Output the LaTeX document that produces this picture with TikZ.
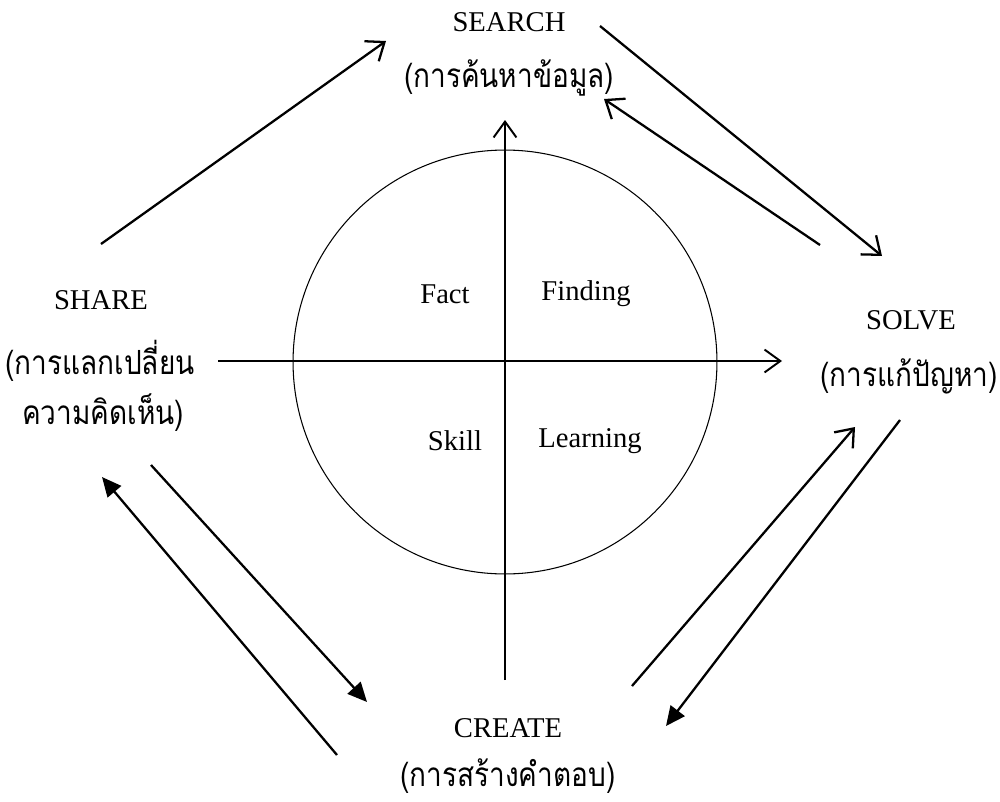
\documentclass[tikz,border=0pt]{standalone}
\usepackage{fontspec}
\setmainfont{Liberation Serif}
\newfontfamily\thaifont[Script=Thai, Scale=1.2, FakeStretch=0.84]{Loma}
\usetikzlibrary{arrows.meta}
\tikzset{
  lbl/.style={inner sep=0pt, font=\fontsize{16.3}{19}\selectfont},
  thlbl/.style={inner sep=0pt, font=\thaifont\fontsize{15.8}{19}\selectfont},
  openarr/.style={line width=1.3pt, -{Straight Barb[length=9pt,width=14pt,line width=1.3pt]}},
  fillarr/.style={line width=1.3pt, -{Triangle[length=11pt,width=10pt]}},
  axis/.style={line width=1.1pt, -{Straight Barb[length=9pt,width=13pt,line width=1.1pt]}}
}
\begin{document}
\begin{tikzpicture}[x=0.02cm,y=-0.02cm]
\useasboundingbox (0,0) rectangle (1000,801);
% circle
\node[circle, draw, line width=0.6pt, minimum size=8.48cm, inner sep=0pt] (c) at (505,362) {};
% labels
\node[lbl] (search) at (509,22) {SEARCH};
\node[thlbl] (searchth) at (509,78) {(การค้นหาข้อมูล)};
\node[lbl] (solve) at (911,320) {SOLVE};
\node[thlbl] (solveth) at (909,376) {(การแก้ปัญหา)};
\node[lbl] (share) at (101,300) {SHARE};
\node[thlbl] (shareth1) at (100,361) {(การแลกเปลี่ยน};
\node[thlbl] (shareth2) at (103,413) {ความคิดเห็น)};
\node[lbl] (create) at (508,728) {CREATE};
\node[thlbl] (createth) at (508,776) {(การสร้างคำตอบ)};
\node[lbl] (fact) at (445,294) {Fact};
\node[lbl] (finding) at (586,294) {Finding};
\node[lbl] (skill) at (455,441) {Skill};
\node[lbl] (learning) at (590,441) {Learning};
% axes
\coordinate (vbot) at (505,680);
\coordinate (vtop) at (505,120);
\coordinate (hl) at (218,361);
\coordinate (hr) at (782,361);
\draw[axis] (vbot) -- (vtop);
\draw[axis] (hl) -- (hr);
% cycle arrows
\coordinate (a1s) at (101,244); \coordinate (a1e) at (386,41);
\coordinate (a2s) at (600,26);  \coordinate (a2e) at (882,256);
\coordinate (a3s) at (820,245); \coordinate (a3e) at (604,99);
\coordinate (a4s) at (632,686); \coordinate (a4e) at (855,427);
\coordinate (a5s) at (900,420); \coordinate (a5e) at (666,726);
\coordinate (a6s) at (151,465); \coordinate (a6e) at (367,702);
\coordinate (a7s) at (337,755); \coordinate (a7e) at (102,477);
\draw[openarr] (a1s) -- (a1e);
\draw[openarr] (a2s) -- (a2e);
\draw[openarr] (a3s) -- (a3e);
\draw[openarr] (a4s) -- (a4e);
\draw[fillarr] (a5s) -- (a5e);
\draw[fillarr] (a6s) -- (a6e);
\draw[fillarr] (a7s) -- (a7e);
\end{tikzpicture}
\end{document}
